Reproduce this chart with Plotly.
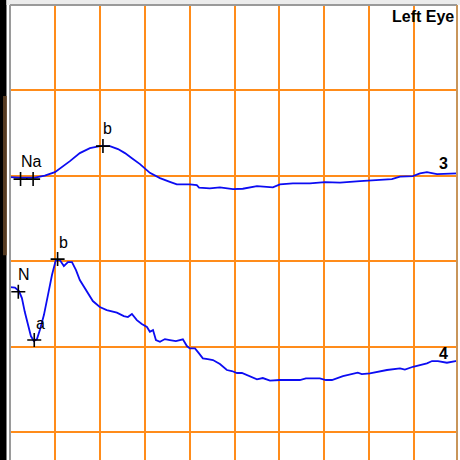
import plotly.graph_objects as go

# ---- data (time in ms, 20 ms / division; amplitude in uV, 100 uV / division) ----
t3 = [0, 4.4, 11.1, 15.5, 20.0, 23.1, 26.7, 31.1, 35.6, 40.0, 44.5, 48.1, 51.2, 54.3, 57.9,
      62.3, 66.8, 71.2, 74.3, 80.1, 83.2, 84.2, 89.0, 93.5, 99.3, 103.7, 110.0, 117.1, 120.2,
      126.0, 133.6, 140.3, 147.0, 155.9, 164.8, 170.1, 173.7, 179.5, 182.6, 185.7, 190.2,
      194.6, 199.1]
v3 = [-1.4, -2.0, -2.0, 0.4, 4.4, 10.3, 17.3, 26.7, 32.5, 34.9, 34.9, 31.4, 26.7, 20.8, 13.8,
      3.6, -2.6, -6.9, -9.9, -9.9, -10.8, -13.7, -14.6, -13.4, -15.4, -15.0, -11.9, -13.4, -9.9,
      -8.8, -8.8, -7.2, -7.8, -6.1, -4.9, -3.7, -0.8, -0.2, 2.9, 4.5, 2.1, 2.9, 2.9]

t4 = [0, 2.2, 4.0, 5.3, 6.6, 8.0, 9.3, 10.6, 12.0, 13.3, 15.1, 16.9, 18.7, 20.4, 22.2, 24.0,
      25.8, 27.6, 29.4, 31.1, 34.3, 36.9, 40.0, 43.1, 47.6, 50.7, 52.5, 54.3, 56.5, 58.7, 61.0,
      62.3, 63.7, 65.0, 66.8, 69.0, 71.2, 73.9, 77.0, 78.8, 80.1, 82.4, 84.1, 85.9, 88.1, 90.4,
      93.5, 96.6, 98.8, 101.1, 103.3, 105.5, 107.8, 110.0, 112.6, 115.8, 120.2, 124.7, 129.1,
      131.8, 138.0, 140.7, 143.4, 148.3, 154.9, 156.7, 160.3, 167.9, 173.7, 175.9, 179.5,
      185.7, 188.0, 190.6, 194.6, 199.1]
v4 = [69.9, 69.4, 65.3, 57.1, 40.7, 24.3, 12.6, 6.8, 9.1, 19.6, 37.2, 60.6, 84.0, 101.5, 101.5,
      94.5, 99.2, 99.2, 89.8, 78.1, 64.1, 53.6, 46.6, 43.0, 40.1, 36.0, 34.9, 38.4, 31.3, 26.7,
      23.2, 17.7, 19.6, 8.0, 6.0, 9.1, 8.0, 6.8, 8.8, 0.9, -1.8, -1.8, -7.3, -13.4, -14.3, -15.4,
      -20.1, -27.1, -28.3, -30.6, -30.6, -33.0, -35.3, -38.0, -36.5, -39.6, -38.8, -38.8, -38.8,
      -36.8, -36.8, -38.8, -38.8, -34.2, -30.3, -31.8, -31.0, -27.1, -25.1, -26.5, -23.3,
      -19.3, -16.6, -16.6, -18.6, -16.3]

# cursor marks
m3_t = [4.7, 10.3, 41.4]
m3_v = [-3.7, -3.7, 34.9]
m4_t = [3.7, 10.8, 21.2]
m4_v = [64.4, 8.0, 102.7]

# cursor labels (text, time, amplitude)
lab3 = [("Na", 7.5, -3.7), ("b", 41.4, 34.9)]
lab4 = [("N", 3.7, 64.4), ("a", 10.8, 8.0), ("b", 21.2, 102.7)]

OFF3 = 300   # display offset of trace 3
OFF4 = 100   # display offset of trace 4

BLUE = "#0c0cf2"
ORANGE = "#ff8c1a"
FONT = "Liberation Sans, Arial, sans-serif"

fig = go.Figure()
fig.add_trace(go.Scatter(x=t3, y=[v + OFF3 for v in v3], mode="lines",
                         line=dict(color=BLUE, width=1.8), hoverinfo="skip"))
fig.add_trace(go.Scatter(x=t4, y=[v + OFF4 for v in v4], mode="lines",
                         line=dict(color=BLUE, width=1.8), hoverinfo="skip"))
fig.add_trace(go.Scatter(x=m3_t + m4_t, y=[v + OFF3 for v in m3_v] + [v + OFF4 for v in m4_v],
                         mode="markers",
                         marker=dict(symbol="cross-thin", size=10, color="black",
                                     line=dict(color="black", width=1.6)),
                         hoverinfo="skip"))

ann = []
for txt, t, v in lab3:
    ann.append(dict(x=t, y=v + OFF3, text=txt, showarrow=False, xshift=5, yshift=18,
                    font=dict(family=FONT, size=16, color="black")))
for txt, t, v in lab4:
    ann.append(dict(x=t, y=v + OFF4, text=txt, showarrow=False, xshift=6, yshift=17,
                    font=dict(family=FONT, size=16, color="black")))
ann.append(dict(x=193.1, y=OFF3 + 15, text="<b>3</b>", showarrow=False,
                font=dict(family=FONT, size=16, color="black")))
ann.append(dict(x=193.1, y=OFF4 - 8, text="<b>4</b>", showarrow=False,
                font=dict(family=FONT, size=16, color="black")))
ann.append(dict(x=1, y=1, xref="paper", yref="paper", xanchor="right", yanchor="top",
                xshift=-1, yshift=-1, text="<b>Left Eye</b>", showarrow=False,
                font=dict(family=FONT, size=16, color="black")))

W = 447.0
H = 455.0
shapes = [
    # photo edge strip on the left
    dict(type="rect", xref="paper", yref="paper", x0=-10 / W, x1=-3.5 / W, y0=-0.01, y1=1.02,
         fillcolor="black", line=dict(width=0), layer="above"),
    dict(type="rect", xref="paper", yref="paper", x0=-7 / W, x1=-3 / W, y0=0.45, y1=0.8,
         fillcolor="#6b4a2a", line=dict(width=0), opacity=0.8, layer="above"),
    # light grey band at top
    dict(type="rect", xref="paper", yref="paper", x0=-3.5 / W, x1=1.01, y0=1.0, y1=1 + 5 / H,
         fillcolor="#ececec", line=dict(width=0), layer="above"),
    # frame
    dict(type="line", xref="paper", yref="paper", x0=0, x1=0, y0=0, y1=1,
         line=dict(color="#9a9a9a", width=2), layer="above"),
    dict(type="line", xref="paper", yref="paper", x0=0, x1=1, y0=1, y1=1,
         line=dict(color="#9a9a9a", width=2), layer="above"),
    dict(type="line", xref="paper", yref="paper", x0=1, x1=1, y0=0, y1=1,
         line=dict(color="#c8955a", width=2), layer="above"),
]

fig.update_layout(
    width=460, height=460,
    margin=dict(l=10, r=3, t=5, b=0),
    paper_bgcolor="white", plot_bgcolor="white",
    showlegend=False,
    annotations=ann,
    shapes=shapes,
    xaxis=dict(range=[0, 199.1], tick0=0, dtick=20, showgrid=True, gridcolor=ORANGE,
               gridwidth=2, zeroline=False, showticklabels=False, ticks="", showline=False,
               fixedrange=True),
    yaxis=dict(range=[-32.4, 500], tick0=0, dtick=100, showgrid=True, gridcolor=ORANGE,
               gridwidth=2, zeroline=False, showticklabels=False, ticks="", showline=False,
               fixedrange=True),
)

fig.write_html(
    "out.html",
    config={"displayModeBar": False},
    post_script="document.body.style.margin='0';document.body.style.padding='0';"
                "document.body.style.overflow='hidden';",
)
